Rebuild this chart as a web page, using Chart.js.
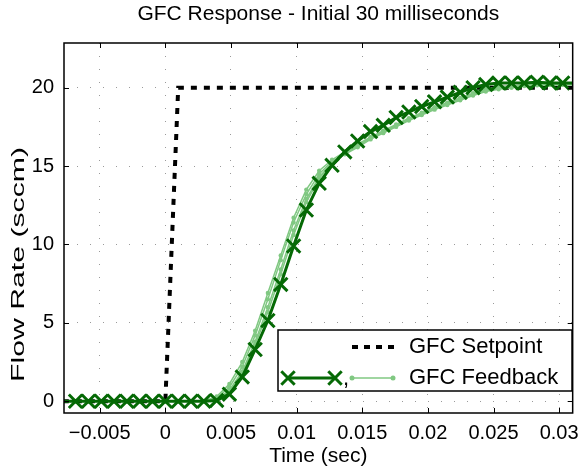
<!DOCTYPE html>
<html><head><meta charset="utf-8">
<script src="https://cdn.jsdelivr.net/npm/chart.js@4.4.0/dist/chart.umd.min.js"></script>
<style>html,body{margin:0;padding:0;background:#fff}#wrap{width:587px;height:475px}</style>
</head><body><div id="wrap"><canvas id="c" width="587" height="475"></canvas></div>
<script>
// Time samples (sec)
const timeSec = [-0.00781,-0.00684,-0.00586,-0.00488,-0.00391,-0.00293,-0.00195,-0.00098,0,
  0.00098,0.00195,0.00293,0.00391,0.00488,0.00586,0.00684,0.00781,0.00879,0.00977,
  0.01074,0.01172,0.01270,0.01367,0.01465,0.01563,0.01660,0.01758,0.01855,0.01953,
  0.02051,0.02148,0.02246,0.02344,0.02441,0.02539,0.02637,0.02734,0.02832,0.02930,0.03027,0.03125];
const setpoint = [0,0,0,0,0,0,0,0,0,
  20,20,20,20,20,20,20,20,20,20,20,20,20,20,20,20,20,20,20,20,20,20,20,20,20,20,20,20,20,20,20,20];
const feedbackMean = [0,0,0,0,0,0,0,0,0,0,0,0,
  0.05,0.45,1.55,3.3,5.15,7.45,9.9,12.2,13.9,15.05,15.9,16.6,17.2,17.6,18.1,18.45,18.8,19.1,19.4,19.7,20.0,20.2,20.3,20.3,20.3,20.35,20.3,20.3,20.3];
const trial1 = [0,0,0,0,0,0,0,0,0,0,0,0,
  0.2,0.9,2.2,4.2,6.5,9.0,11.4,13.2,14.5,15.3,15.8,16.3,16.8,17.2,17.6,18.0,18.35,18.7,19.0,19.3,19.6,19.85,20.0,20.1,20.15,20.2,20.2,20.2,20.2];
const trial2 = [0,0,0,0,0,0,0,0,0,0,0,0,
  0.1,0.7,1.9,3.8,6.0,8.4,10.9,12.9,14.3,15.2,15.8,16.3,16.75,17.15,17.55,17.95,18.3,18.65,18.95,19.25,19.55,19.8,19.95,20.05,20.15,20.2,20.2,20.25,20.2];
const trial3 = [0,0,0,0,0,0,0,0,0,0,0,0,
  0.3,1.1,2.5,4.5,6.9,9.3,11.7,13.5,14.7,15.4,15.9,16.4,16.85,17.25,17.65,18.05,18.4,18.75,19.05,19.35,19.65,19.9,20.05,20.1,20.15,20.2,20.2,20.2,20.2];
const trial4 = [0,0,0,0,0,0,0,0,0,0,0,0,
  0.1,0.6,1.8,3.6,5.7,8.1,10.6,12.7,14.2,15.2,15.75,16.2,16.7,17.1,17.5,17.9,18.25,18.6,18.9,19.2,19.5,19.75,19.9,20.0,20.1,20.15,20.2,20.2,20.2];
const xTicks = [-0.005,0,0.005,0.01,0.015,0.02,0.025,0.03];
const xTickLabels = ['\u22120.005','0','0.005','0.01','0.015','0.02','0.025','0.03'];
const yTicks = [0,5,10,15,20];
const yTickLabels = ['0','5','10','15','20'];

const X_MIN = -0.00772, X_MAX = 0.03103, Y_MIN = -0.75, Y_MAX = 22.85;
const DARK = 'rgb(5,105,5)', LIGHT = 'rgb(128,200,130)';
const FONT = '"Liberation Sans", Arial, sans-serif';
Chart.defaults.font.family = FONT;

const pts = arr => arr.map((v,i)=>({x:timeSec[i], y:v}));
const inRange = c => { const r = c.raw; return r && r.x >= X_MIN && r.x <= X_MAX; };

const trialDs = arr => ({data: pts(arr), borderColor: LIGHT, borderWidth: 1.5, pointStyle:'circle',
  pointRadius: c => inRange(c) ? 2.2 : 0, pointBackgroundColor: LIGHT, pointBorderWidth: 0, clip: 0});

const boxPlugin = {
  id: 'box',
  afterDatasetsDraw(chart){
    const {ctx, chartArea:a, scales:{x, y}} = chart;
    ctx.save();
    ctx.strokeStyle = '#000'; ctx.lineWidth = 1.5;
    ctx.strokeRect(a.left, a.top, a.right - a.left, a.bottom - a.top);
    ctx.lineWidth = 1;
    ctx.beginPath();
    xTicks.forEach(v => { const px = Math.round(x.getPixelForValue(v)) + 0.5;
      ctx.moveTo(px, a.bottom); ctx.lineTo(px, a.bottom - 5);
      ctx.moveTo(px, a.top); ctx.lineTo(px, a.top + 5); });
    yTicks.forEach(v => { const py = Math.round(y.getPixelForValue(v)) + 0.5;
      ctx.moveTo(a.left, py); ctx.lineTo(a.left + 5, py);
      ctx.moveTo(a.right, py); ctx.lineTo(a.right - 5, py); });
    ctx.stroke();
    ctx.restore();
  },
  afterDraw(chart){
    const ctx = chart.ctx;
    ctx.save();
    // y axis label (stretched along its length as in the reference)
    const txt = 'Flow Rate (sccm)';
    ctx.translate(19, 264.5); ctx.rotate(-Math.PI/2);
    ctx.font = '19px ' + FONT;
    const w = ctx.measureText(txt).width;
    ctx.scale(235 / w, 1);
    ctx.fillStyle = '#000'; ctx.textAlign = 'center'; ctx.textBaseline = 'middle';
    ctx.fillText(txt, 0, 0);
    ctx.restore();

    // legend
    ctx.save();
    ctx.fillStyle = '#fff'; ctx.fillRect(278, 330, 294, 61);
    ctx.strokeStyle = '#000'; ctx.lineWidth = 1.5; ctx.strokeRect(278, 330, 294, 61);
    ctx.strokeStyle = '#000'; ctx.lineWidth = 4; ctx.setLineDash([6,6]);
    ctx.beginPath(); ctx.moveTo(352, 347); ctx.lineTo(399, 347); ctx.stroke();
    ctx.setLineDash([]);
    ctx.strokeStyle = DARK; ctx.lineWidth = 3;
    ctx.beginPath(); ctx.moveTo(288, 378); ctx.lineTo(335, 378); ctx.stroke();
    [288, 335].forEach(cx => {
      const d = 6.7;
      ctx.beginPath(); ctx.moveTo(cx-d, 378-d); ctx.lineTo(cx+d, 378+d);
      ctx.moveTo(cx-d, 378+d); ctx.lineTo(cx+d, 378-d); ctx.stroke();
    });
    ctx.strokeStyle = LIGHT; ctx.fillStyle = LIGHT; ctx.lineWidth = 1.5;
    ctx.beginPath(); ctx.moveTo(352, 378); ctx.lineTo(393, 378); ctx.stroke();
    [352, 393].forEach(cx => { ctx.beginPath(); ctx.arc(cx, 378, 2.5, 0, Math.PI*2); ctx.fill(); });
    ctx.fillStyle = '#000';
    ctx.font = '22px ' + FONT; ctx.textBaseline = 'middle'; ctx.textAlign = 'left';
    ctx.fillText('GFC Setpoint', 409, 347);
    ctx.fillText('GFC Feedback', 409, 378);
    ctx.textBaseline = 'alphabetic';
    ctx.fillText(',', 343, 385);
    ctx.restore();
  }
};

new Chart(document.getElementById('c'), {
  type: 'line',
  data: { datasets: [
    {data: pts(feedbackMean), borderColor: DARK, borderWidth: 3, pointStyle: 'crossRot',
     pointRadius: c => inRange(c) ? 9.5 : 0, pointBorderWidth: 3, pointBorderColor: DARK,
     pointBackgroundColor: DARK, clip: 0},
    trialDs(trial1), trialDs(trial2), trialDs(trial3), trialDs(trial4),
    {data: pts(setpoint), borderColor: '#000', borderWidth: 4, borderDash: [6,7], pointRadius: 0, clip: 0}
  ]},
  options: {
    responsive: false, animation: false, devicePixelRatio: 1, events: [],
    layout: {padding: {left: 0, right: 10, top: 0, bottom: 0}},
    elements: {line: {tension: 0}},
    plugins: {
      legend: {display: false}, tooltip: {enabled: false},
      title: {display: true, fullSize: false, text: 'GFC Response - Initial 30 milliseconds', color: '#000',
        font: {size: 21, weight: 'normal', family: FONT, lineHeight: 1.2}, padding: {top: 2, bottom: 15.8}}
    },
    scales: {
      x: {type: 'linear', min: X_MIN, max: X_MAX,
        afterBuildTicks: s => { s.ticks = xTicks.map(v => ({value: v})); },
        afterFit: s => { s.height = 62; },
        ticks: {color: '#000', font: {size: 20, family: FONT}, padding: 8, maxRotation: 0, autoSkip: false,
          callback: v => xTickLabels[xTicks.indexOf(v)]},
        grid: {color: '#9a9a9a', lineWidth: 1, drawTicks: false},
        border: {display: false, dash: [1, 12]},
        title: {display: true, text: 'Time (sec)', color: '#000', font: {size: 21, family: FONT}, padding: {top: 0, bottom: 6}}
      },
      y: {type: 'linear', min: Y_MIN, max: Y_MAX,
        afterBuildTicks: s => { s.ticks = yTicks.map(v => ({value: v})); },
        afterFit: s => { s.width = 64; },
        ticks: {color: '#000', font: {size: 20, family: FONT}, padding: 10,
          callback: v => yTickLabels[yTicks.indexOf(v)]},
        grid: {color: '#9a9a9a', lineWidth: 1, drawTicks: false},
        border: {display: false, dash: [1, 12]},
        title: {display: false}
      }
    }
  },
  plugins: [boxPlugin]
});
</script></body></html>
